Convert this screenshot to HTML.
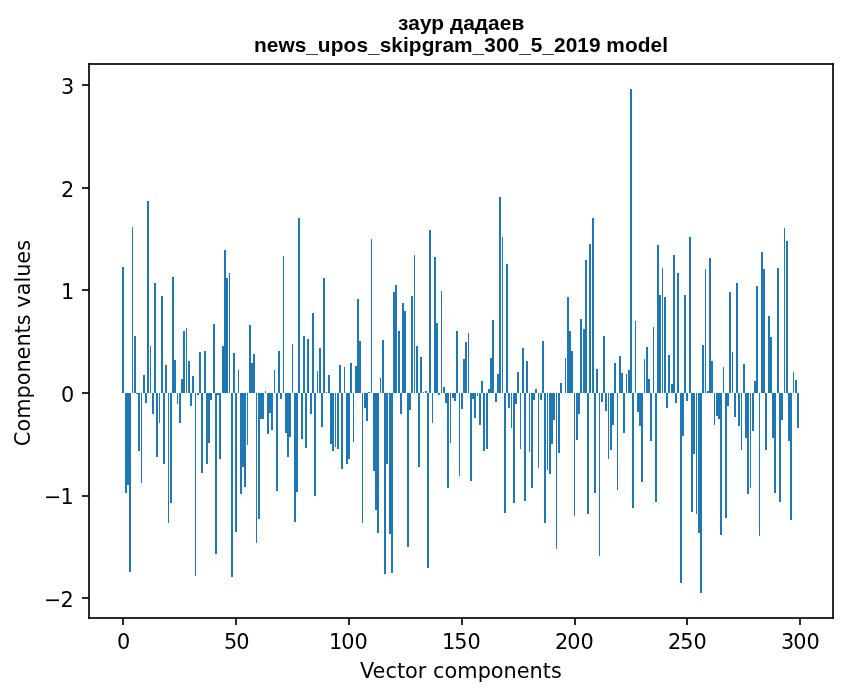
<!DOCTYPE html>
<html lang="ru">
<head>
<meta charset="utf-8">
<title>заур дадаев — news_upos_skipgram_300_5_2019 model</title>
<style>
html,body{margin:0;padding:0;background:#fff;}
body{width:847px;height:696px;overflow:hidden;}
svg{display:block;}
text{white-space:pre;}
.lbl{font-family:"DejaVu Sans","Liberation Sans",sans-serif;font-size:20.8333px;fill:#000;}
.ttl{font-family:"Liberation Sans","DejaVu Sans",sans-serif;font-weight:bold;font-size:20.8333px;fill:#000;}
.bars rect{fill:#1f77b4;}
.ax rect{fill:#000;fill-opacity:0.8353;}
</style>
</head>
<body>
<svg width="847" height="696" viewBox="0 0 847 696">
<rect x="0" y="0" width="847" height="696" fill="#ffffff"/>
<g class="bars" shape-rendering="crispEdges">
<rect x="122" y="267" width="2" height="126"/>
<rect x="125" y="393" width="2" height="100"/>
<rect x="127" y="393" width="2" height="92"/>
<rect x="129" y="393" width="2" height="179"/>
<rect x="132" y="227" width="1" height="166"/>
<rect x="134" y="336" width="2" height="57"/>
<rect x="136" y="393" width="2" height="1"/>
<rect x="138" y="393" width="2" height="58"/>
<rect x="141" y="393" width="1" height="90"/>
<rect x="143" y="375" width="2" height="18"/>
<rect x="145" y="393" width="2" height="10"/>
<rect x="147" y="201" width="2" height="192"/>
<rect x="150" y="346" width="1" height="47"/>
<rect x="152" y="393" width="2" height="21"/>
<rect x="154" y="283" width="2" height="110"/>
<rect x="156" y="393" width="2" height="64"/>
<rect x="159" y="393" width="1" height="30"/>
<rect x="161" y="296" width="2" height="97"/>
<rect x="163" y="393" width="2" height="71"/>
<rect x="165" y="365" width="2" height="28"/>
<rect x="168" y="393" width="1" height="130"/>
<rect x="170" y="393" width="2" height="110"/>
<rect x="172" y="277" width="2" height="116"/>
<rect x="174" y="360" width="2" height="33"/>
<rect x="177" y="393" width="1" height="11"/>
<rect x="179" y="393" width="2" height="30"/>
<rect x="181" y="379" width="2" height="14"/>
<rect x="183" y="331" width="2" height="62"/>
<rect x="186" y="328" width="1" height="65"/>
<rect x="188" y="361" width="2" height="32"/>
<rect x="190" y="393" width="2" height="13"/>
<rect x="192" y="376" width="2" height="17"/>
<rect x="195" y="393" width="1" height="183"/>
<rect x="197" y="393" width="2" height="2"/>
<rect x="199" y="352" width="2" height="41"/>
<rect x="201" y="393" width="2" height="80"/>
<rect x="204" y="351" width="2" height="42"/>
<rect x="206" y="393" width="2" height="71"/>
<rect x="208" y="393" width="2" height="50"/>
<rect x="210" y="393" width="2" height="7"/>
<rect x="213" y="324" width="2" height="69"/>
<rect x="215" y="393" width="2" height="161"/>
<rect x="217" y="393" width="2" height="2"/>
<rect x="219" y="393" width="2" height="66"/>
<rect x="222" y="346" width="2" height="47"/>
<rect x="224" y="250" width="2" height="143"/>
<rect x="226" y="278" width="2" height="115"/>
<rect x="229" y="273" width="1" height="120"/>
<rect x="231" y="393" width="2" height="184"/>
<rect x="233" y="353" width="2" height="40"/>
<rect x="235" y="393" width="2" height="139"/>
<rect x="238" y="370" width="1" height="23"/>
<rect x="240" y="393" width="2" height="101"/>
<rect x="242" y="393" width="2" height="74"/>
<rect x="244" y="393" width="2" height="94"/>
<rect x="247" y="393" width="1" height="52"/>
<rect x="249" y="325" width="2" height="68"/>
<rect x="251" y="363" width="2" height="30"/>
<rect x="253" y="354" width="2" height="39"/>
<rect x="256" y="393" width="1" height="150"/>
<rect x="258" y="393" width="2" height="126"/>
<rect x="260" y="393" width="2" height="26"/>
<rect x="262" y="393" width="2" height="26"/>
<rect x="265" y="391" width="1" height="2"/>
<rect x="267" y="393" width="2" height="41"/>
<rect x="269" y="393" width="2" height="20"/>
<rect x="271" y="393" width="2" height="37"/>
<rect x="274" y="370" width="1" height="23"/>
<rect x="276" y="393" width="2" height="98"/>
<rect x="278" y="351" width="2" height="42"/>
<rect x="280" y="393" width="2" height="6"/>
<rect x="283" y="256" width="1" height="137"/>
<rect x="285" y="393" width="2" height="40"/>
<rect x="287" y="393" width="2" height="64"/>
<rect x="289" y="393" width="2" height="44"/>
<rect x="292" y="344" width="1" height="49"/>
<rect x="294" y="393" width="2" height="129"/>
<rect x="296" y="393" width="2" height="99"/>
<rect x="298" y="218" width="2" height="175"/>
<rect x="301" y="393" width="2" height="46"/>
<rect x="303" y="336" width="2" height="57"/>
<rect x="305" y="393" width="2" height="55"/>
<rect x="307" y="339" width="2" height="54"/>
<rect x="310" y="393" width="2" height="21"/>
<rect x="312" y="313" width="2" height="80"/>
<rect x="314" y="393" width="2" height="103"/>
<rect x="317" y="371" width="1" height="22"/>
<rect x="319" y="348" width="2" height="45"/>
<rect x="321" y="393" width="2" height="34"/>
<rect x="323" y="278" width="2" height="115"/>
<rect x="326" y="392" width="1" height="1"/>
<rect x="328" y="375" width="2" height="18"/>
<rect x="330" y="393" width="2" height="51"/>
<rect x="332" y="393" width="2" height="58"/>
<rect x="335" y="393" width="1" height="54"/>
<rect x="337" y="393" width="2" height="56"/>
<rect x="339" y="365" width="2" height="28"/>
<rect x="341" y="393" width="2" height="76"/>
<rect x="344" y="367" width="1" height="26"/>
<rect x="346" y="393" width="2" height="71"/>
<rect x="348" y="393" width="2" height="66"/>
<rect x="350" y="363" width="2" height="30"/>
<rect x="353" y="393" width="1" height="49"/>
<rect x="355" y="366" width="2" height="27"/>
<rect x="357" y="299" width="2" height="94"/>
<rect x="359" y="341" width="2" height="52"/>
<rect x="362" y="393" width="1" height="130"/>
<rect x="364" y="393" width="2" height="15"/>
<rect x="366" y="393" width="2" height="28"/>
<rect x="368" y="392" width="2" height="1"/>
<rect x="371" y="239" width="1" height="154"/>
<rect x="373" y="393" width="2" height="78"/>
<rect x="375" y="393" width="2" height="117"/>
<rect x="377" y="393" width="2" height="140"/>
<rect x="380" y="378" width="1" height="15"/>
<rect x="382" y="340" width="2" height="53"/>
<rect x="384" y="393" width="2" height="181"/>
<rect x="386" y="393" width="2" height="71"/>
<rect x="389" y="393" width="2" height="141"/>
<rect x="391" y="393" width="2" height="180"/>
<rect x="393" y="292" width="2" height="101"/>
<rect x="395" y="285" width="2" height="108"/>
<rect x="398" y="331" width="2" height="62"/>
<rect x="400" y="393" width="2" height="21"/>
<rect x="402" y="303" width="2" height="90"/>
<rect x="404" y="311" width="2" height="82"/>
<rect x="407" y="393" width="2" height="154"/>
<rect x="409" y="393" width="2" height="17"/>
<rect x="411" y="296" width="2" height="97"/>
<rect x="414" y="255" width="1" height="138"/>
<rect x="416" y="346" width="2" height="47"/>
<rect x="418" y="393" width="2" height="74"/>
<rect x="420" y="357" width="2" height="36"/>
<rect x="423" y="392" width="1" height="1"/>
<rect x="425" y="391" width="2" height="2"/>
<rect x="427" y="393" width="2" height="175"/>
<rect x="429" y="230" width="2" height="163"/>
<rect x="432" y="393" width="1" height="30"/>
<rect x="434" y="257" width="2" height="136"/>
<rect x="436" y="323" width="2" height="70"/>
<rect x="438" y="393" width="2" height="2"/>
<rect x="441" y="291" width="1" height="102"/>
<rect x="443" y="387" width="2" height="6"/>
<rect x="445" y="393" width="2" height="10"/>
<rect x="447" y="393" width="2" height="95"/>
<rect x="450" y="393" width="1" height="50"/>
<rect x="452" y="393" width="2" height="5"/>
<rect x="454" y="393" width="2" height="8"/>
<rect x="456" y="331" width="2" height="62"/>
<rect x="459" y="393" width="1" height="83"/>
<rect x="461" y="393" width="2" height="16"/>
<rect x="463" y="359" width="2" height="34"/>
<rect x="465" y="342" width="2" height="51"/>
<rect x="468" y="333" width="1" height="60"/>
<rect x="470" y="393" width="2" height="88"/>
<rect x="472" y="393" width="2" height="6"/>
<rect x="474" y="393" width="2" height="25"/>
<rect x="477" y="393" width="1" height="3"/>
<rect x="479" y="393" width="2" height="32"/>
<rect x="481" y="381" width="2" height="12"/>
<rect x="483" y="393" width="2" height="58"/>
<rect x="486" y="393" width="2" height="56"/>
<rect x="488" y="389" width="2" height="4"/>
<rect x="490" y="358" width="2" height="35"/>
<rect x="492" y="320" width="2" height="73"/>
<rect x="495" y="393" width="2" height="9"/>
<rect x="497" y="374" width="2" height="19"/>
<rect x="499" y="197" width="2" height="196"/>
<rect x="502" y="237" width="1" height="156"/>
<rect x="504" y="393" width="2" height="120"/>
<rect x="506" y="264" width="2" height="129"/>
<rect x="508" y="393" width="2" height="15"/>
<rect x="511" y="393" width="1" height="35"/>
<rect x="513" y="393" width="2" height="110"/>
<rect x="515" y="393" width="2" height="11"/>
<rect x="517" y="372" width="2" height="21"/>
<rect x="520" y="393" width="1" height="56"/>
<rect x="522" y="348" width="2" height="45"/>
<rect x="524" y="393" width="2" height="108"/>
<rect x="526" y="361" width="2" height="32"/>
<rect x="529" y="393" width="1" height="59"/>
<rect x="531" y="393" width="2" height="95"/>
<rect x="533" y="393" width="2" height="7"/>
<rect x="535" y="389" width="2" height="4"/>
<rect x="538" y="393" width="1" height="75"/>
<rect x="540" y="393" width="2" height="7"/>
<rect x="542" y="341" width="2" height="52"/>
<rect x="544" y="393" width="2" height="130"/>
<rect x="547" y="393" width="1" height="77"/>
<rect x="549" y="393" width="2" height="81"/>
<rect x="551" y="393" width="2" height="51"/>
<rect x="553" y="393" width="2" height="27"/>
<rect x="556" y="393" width="1" height="156"/>
<rect x="558" y="393" width="2" height="60"/>
<rect x="560" y="383" width="2" height="10"/>
<rect x="565" y="358" width="1" height="35"/>
<rect x="567" y="297" width="2" height="96"/>
<rect x="569" y="331" width="2" height="62"/>
<rect x="571" y="351" width="2" height="42"/>
<rect x="574" y="393" width="1" height="123"/>
<rect x="576" y="393" width="2" height="47"/>
<rect x="578" y="393" width="2" height="21"/>
<rect x="580" y="319" width="2" height="74"/>
<rect x="583" y="329" width="2" height="64"/>
<rect x="585" y="260" width="2" height="133"/>
<rect x="587" y="393" width="2" height="121"/>
<rect x="589" y="244" width="2" height="149"/>
<rect x="592" y="218" width="2" height="175"/>
<rect x="594" y="393" width="2" height="100"/>
<rect x="596" y="369" width="2" height="24"/>
<rect x="599" y="393" width="1" height="163"/>
<rect x="601" y="393" width="2" height="9"/>
<rect x="603" y="336" width="2" height="57"/>
<rect x="605" y="393" width="2" height="18"/>
<rect x="608" y="393" width="1" height="66"/>
<rect x="610" y="393" width="2" height="57"/>
<rect x="612" y="393" width="2" height="32"/>
<rect x="614" y="363" width="2" height="30"/>
<rect x="617" y="393" width="1" height="97"/>
<rect x="619" y="356" width="2" height="37"/>
<rect x="621" y="373" width="2" height="20"/>
<rect x="623" y="393" width="2" height="40"/>
<rect x="626" y="374" width="1" height="19"/>
<rect x="628" y="370" width="2" height="23"/>
<rect x="630" y="89" width="2" height="304"/>
<rect x="632" y="393" width="2" height="115"/>
<rect x="635" y="321" width="1" height="72"/>
<rect x="637" y="393" width="2" height="19"/>
<rect x="639" y="393" width="2" height="33"/>
<rect x="641" y="393" width="2" height="89"/>
<rect x="644" y="359" width="1" height="34"/>
<rect x="646" y="347" width="2" height="46"/>
<rect x="648" y="379" width="2" height="14"/>
<rect x="650" y="393" width="2" height="48"/>
<rect x="653" y="327" width="1" height="66"/>
<rect x="655" y="393" width="2" height="109"/>
<rect x="657" y="245" width="2" height="148"/>
<rect x="659" y="295" width="2" height="98"/>
<rect x="662" y="268" width="1" height="125"/>
<rect x="664" y="297" width="2" height="96"/>
<rect x="666" y="393" width="2" height="15"/>
<rect x="668" y="355" width="2" height="38"/>
<rect x="671" y="384" width="2" height="9"/>
<rect x="673" y="255" width="2" height="138"/>
<rect x="675" y="393" width="2" height="10"/>
<rect x="677" y="273" width="2" height="120"/>
<rect x="680" y="393" width="2" height="190"/>
<rect x="682" y="393" width="2" height="43"/>
<rect x="684" y="295" width="2" height="98"/>
<rect x="686" y="393" width="2" height="8"/>
<rect x="689" y="237" width="2" height="156"/>
<rect x="691" y="393" width="2" height="119"/>
<rect x="693" y="393" width="2" height="61"/>
<rect x="696" y="393" width="1" height="121"/>
<rect x="698" y="393" width="2" height="140"/>
<rect x="700" y="393" width="2" height="200"/>
<rect x="702" y="345" width="2" height="48"/>
<rect x="705" y="269" width="1" height="124"/>
<rect x="707" y="391" width="2" height="2"/>
<rect x="709" y="258" width="2" height="135"/>
<rect x="711" y="361" width="2" height="32"/>
<rect x="714" y="393" width="1" height="32"/>
<rect x="716" y="393" width="2" height="23"/>
<rect x="718" y="393" width="2" height="26"/>
<rect x="720" y="393" width="2" height="142"/>
<rect x="723" y="367" width="1" height="26"/>
<rect x="725" y="393" width="2" height="125"/>
<rect x="727" y="393" width="2" height="13"/>
<rect x="729" y="292" width="2" height="101"/>
<rect x="732" y="352" width="1" height="41"/>
<rect x="734" y="393" width="2" height="24"/>
<rect x="736" y="283" width="2" height="110"/>
<rect x="738" y="393" width="2" height="33"/>
<rect x="741" y="393" width="1" height="57"/>
<rect x="743" y="364" width="2" height="29"/>
<rect x="745" y="393" width="2" height="45"/>
<rect x="747" y="393" width="2" height="101"/>
<rect x="750" y="393" width="1" height="95"/>
<rect x="752" y="393" width="2" height="38"/>
<rect x="754" y="381" width="2" height="12"/>
<rect x="756" y="286" width="2" height="107"/>
<rect x="759" y="393" width="1" height="143"/>
<rect x="761" y="252" width="2" height="141"/>
<rect x="763" y="269" width="2" height="124"/>
<rect x="765" y="393" width="2" height="57"/>
<rect x="768" y="316" width="2" height="77"/>
<rect x="770" y="337" width="2" height="56"/>
<rect x="772" y="393" width="2" height="45"/>
<rect x="774" y="393" width="2" height="100"/>
<rect x="777" y="268" width="2" height="125"/>
<rect x="779" y="393" width="2" height="109"/>
<rect x="781" y="393" width="2" height="27"/>
<rect x="784" y="228" width="1" height="165"/>
<rect x="786" y="241" width="2" height="152"/>
<rect x="788" y="393" width="2" height="48"/>
<rect x="790" y="393" width="2" height="127"/>
<rect x="793" y="372" width="1" height="21"/>
<rect x="795" y="380" width="2" height="13"/>
<rect x="797" y="393" width="2" height="35"/>
</g>
<g class="ax" shape-rendering="crispEdges">
<rect x="88" y="63" width="2" height="556"/>
<rect x="832" y="63" width="2" height="556"/>
<rect x="90" y="63" width="742" height="2"/>
<rect x="90" y="617" width="742" height="2"/>
<rect x="122" y="618" width="2" height="7"/>
<rect x="235" y="618" width="2" height="7"/>
<rect x="348" y="618" width="2" height="7"/>
<rect x="461" y="618" width="2" height="7"/>
<rect x="574" y="618" width="2" height="7"/>
<rect x="686" y="618" width="2" height="7"/>
<rect x="799" y="618" width="2" height="7"/>
<rect x="82" y="84" width="7" height="2"/>
<rect x="82" y="187" width="7" height="2"/>
<rect x="82" y="289" width="7" height="2"/>
<rect x="82" y="392" width="7" height="2"/>
<rect x="82" y="495" width="7" height="2"/>
<rect x="82" y="597" width="7" height="2"/>
</g>
<g shape-rendering="crispEdges">
<rect x="88" y="63" width="1" height="1" fill="rgb(23,23,23)"/>
<rect x="89" y="63" width="1" height="1" fill="rgb(12,12,12)"/>
<rect x="88" y="64" width="1" height="1" fill="rgb(12,12,12)"/>
<rect x="89" y="64" width="1" height="1" fill="rgb(7,7,7)"/>
<rect x="832" y="63" width="1" height="1" fill="rgb(12,12,12)"/>
<rect x="833" y="63" width="1" height="1" fill="rgb(23,23,23)"/>
<rect x="832" y="64" width="1" height="1" fill="rgb(7,7,7)"/>
<rect x="833" y="64" width="1" height="1" fill="rgb(12,12,12)"/>
<rect x="88" y="617" width="1" height="1" fill="rgb(12,12,12)"/>
<rect x="89" y="617" width="1" height="1" fill="rgb(7,7,7)"/>
<rect x="88" y="618" width="1" height="1" fill="rgb(23,23,23)"/>
<rect x="89" y="618" width="1" height="1" fill="rgb(12,12,12)"/>
<rect x="832" y="617" width="1" height="1" fill="rgb(7,7,7)"/>
<rect x="833" y="617" width="1" height="1" fill="rgb(12,12,12)"/>
<rect x="832" y="618" width="1" height="1" fill="rgb(12,12,12)"/>
<rect x="833" y="618" width="1" height="1" fill="rgb(23,23,23)"/>
</g>
<g class="lbl">
<text x="116.875" y="648.5">0</text>
<text x="224 236.25" y="648.5">50</text>
<text x="328.875 341.125 354.375" y="648.5">100</text>
<text x="441.875 454.125 467.375" y="648.5">150</text>
<text x="554.875 567.125 580.375" y="648.5">200</text>
<text x="667.875 680.125 693.375" y="648.5">250</text>
<text x="780.875 793.125 806.375" y="648.5">300</text>
<text x="61" y="93.5">3</text>
<text x="61" y="196.5">2</text>
<text x="61" y="298.5">1</text>
<text x="61" y="401.5">0</text>
<text x="44 60.5" y="503.5">−1</text>
<text x="44 60.5" y="606.5">−2</text>
<text x="359.875 372.5 385.375 396.875 405 417.75 426.375 433 444.5 457.25 477.75 490.75 503.5 516.625 529.5 542.625 551" y="677.5">Vector components</text>
<text transform="translate(29.5,446.062) rotate(-90)" x="-0.25 14.5 27.25 47.5 60.75 73.5 86.625 99.5 112.625 120.75 131.625 138.25 150.875 163.625 169.25 182.375 195.25" y="0">Components values</text>
</g>
<g class="ttl">
<text x="397.875 408.125 420 431.125 444 450 463.25 474.625 487.875 499.75 511.5" y="29.5">заур дадаев</text>
<text x="253.938 266.812 278.562 294.812 306.188 317.812 330.812 343.438 356.562 367.938 379.812 391.188 403.062 408.688 421.812 434.312 442.438 454.062 472.562 484.188 496.062 507.438 519.312 530.688 542.312 553.938 565.812 577.188 588.938 600.562 606.312 625.062 637.688 650.438 662.188" y="51.5">news_upos_skipgram_300_5_2019 model</text>
</g>
</svg>
</body>
</html>
